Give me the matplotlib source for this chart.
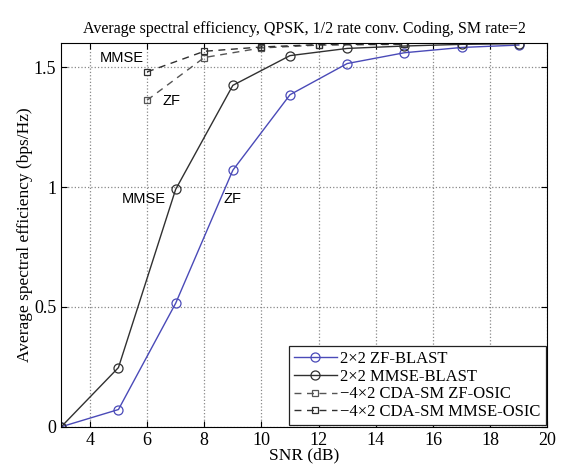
import matplotlib
matplotlib.use("Agg")
import matplotlib.pyplot as plt

# data
snr_blast = [3, 5, 7, 9, 11, 13, 15, 17, 19]
zf_blast = [0.0, 0.072, 0.515, 1.07, 1.385, 1.515, 1.56, 1.582, 1.592]
mmse_blast = [0.0, 0.247, 0.99, 1.424, 1.548, 1.578, 1.588, 1.595, 1.598]

snr_osic = [6, 8, 10, 12, 15]
zf_osic = [1.362, 1.54, 1.58, 1.592, 1.595]
mmse_osic = [1.48, 1.566, 1.584, 1.594, 1.596]

labels = ["2\u00d72 ZF-BLAST", "2\u00d72 MMSE-BLAST",
          "\u22124\u00d72 CDA-SM ZF-OSIC", "\u22124\u00d72 CDA-SM MMSE-OSIC"]
xticks = [4, 6, 8, 10, 12, 14, 16, 18, 20]
yticks = [0, 0.5, 1, 1.5]

plt.rcParams['font.family'] = ['Liberation Serif', 'DejaVu Serif']

fig = plt.figure(figsize=(5.62, 4.69), dpi=100)
ax = fig.add_axes([0.109, 0.09, 0.865, 0.818])

blue = '#4a4ab8'
dark = '#303030'
ax.plot(snr_blast, zf_blast, '-o', color=blue, lw=1.0, ms=6.5, mfc='none', mew=0.9, label=labels[0])
ax.plot(snr_blast, mmse_blast, '-o', color=dark, lw=1.0, ms=6.5, mfc='none', mew=0.9, label=labels[1])
ax.plot(snr_osic, zf_osic, '--s', color='#555555', lw=1.0, ms=5, mfc='none', mew=0.9, dashes=(5, 4), label=labels[2])
ax.plot(snr_osic, mmse_osic, '--s', color=dark, lw=1.0, ms=5, mfc='none', mew=0.9, dashes=(5, 4), label=labels[3])

ax.set_xlim(3, 20)
ax.set_ylim(0, 1.6)
ax.set_xticks(xticks)
ax.set_yticks(yticks)
ax.set_yticklabels(['0', '0.5', '1', '1.5'])
ax.tick_params(direction='in', labelsize=13, length=4, top=True, right=True)
ax.grid(True, linestyle=':', color='#888888', lw=0.9)

ax.text(5.13, 1.54, 'MMSE', family='Liberation Sans', fontsize=10.5, ha='center', va='center')
ax.text(6.84, 1.36, 'ZF', family='Liberation Sans', fontsize=10.5, ha='center', va='center')
ax.text(5.9, 0.95, 'MMSE', family='Liberation Sans', fontsize=10.5, ha='center', va='center')
ax.text(8.98, 0.95, 'ZF', family='Liberation Sans', fontsize=10.5, ha='center', va='center')

ax.set_xlabel('SNR (dB)', fontsize=12.5, labelpad=-1)
ax.set_ylabel('Average spectral efficiency (bps/Hz)', fontsize=12.5, labelpad=1)
ax.set_title('Average spectral efficiency, QPSK, 1/2 rate conv. Coding, SM rate=2',
             fontsize=11.5, pad=7)

leg = ax.legend(loc='lower right', fontsize=12, fancybox=False, framealpha=1,
                edgecolor='#222222', handlelength=2.6, handletextpad=0.2,
                borderaxespad=0.1, labelspacing=0.1, borderpad=0.3)
leg.get_frame().set_linewidth(0.9)

fig.savefig('out.png', dpi=100)
